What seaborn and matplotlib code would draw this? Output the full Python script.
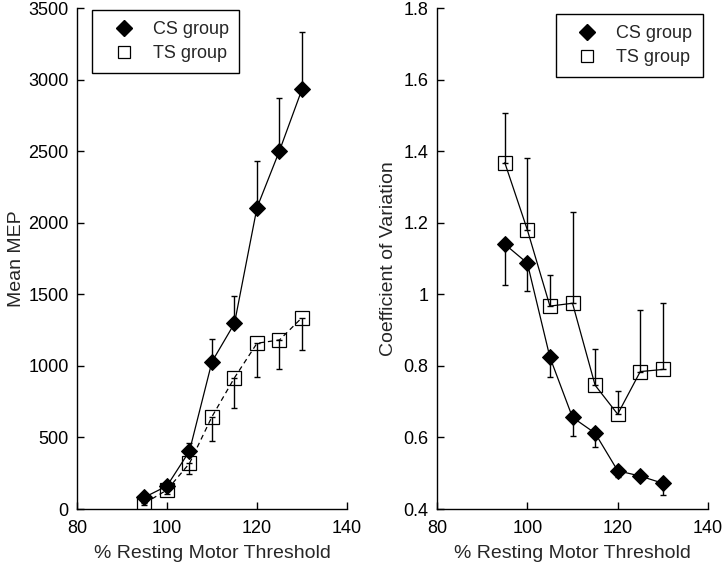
import numpy as np, pandas as pd
import matplotlib
matplotlib.use("Agg")
import matplotlib.pyplot as plt
import seaborn as sns
from matplotlib.lines import Line2D

sns.set_style("ticks")
plt.rcParams["font.family"] = ["Liberation Sans", "DejaVu Sans"]

# ---- data ----
rmt = [95, 100, 105, 110, 115, 120, 125, 130]
mep_cs = [82, 161, 405, 1029, 1297, 2105, 2503, 2932]
mep_cs_err = [20, 30, 58, 156, 193, 328, 370, 400]
mep_ts = [40, 133, 319, 645, 917, 1158, 1181, 1337]
mep_ts_err = [15, 30, 77, 170, 214, 234, 205, 226]
cv_cs = [1.140, 1.087, 0.824, 0.656, 0.612, 0.507, 0.492, 0.472]
cv_cs_err = [0.114, 0.078, 0.054, 0.052, 0.038, 0.017, 0.010, 0.033]
cv_ts = [1.368, 1.180, 0.967, 0.975, 0.746, 0.665, 0.784, 0.790]
cv_ts_err = [0.139, 0.202, 0.087, 0.256, 0.100, 0.066, 0.172, 0.187]

df = pd.DataFrame({"rmt": rmt, "mep_cs": mep_cs, "mep_ts": mep_ts,
                   "cv_cs": cv_cs, "cv_ts": cv_ts})

fig = plt.figure(figsize=(7.22, 5.64), dpi=100)
axL = fig.add_axes([0.1066, 0.0975, 0.374, 0.8883])
axR = fig.add_axes([0.6053, 0.0975, 0.3753, 0.8883])

cs_kw = dict(marker="D", color="black", markersize=8, markerfacecolor="black",
             markeredgecolor="black", linewidth=0.9)
ts_kw = dict(marker="s", color="black", markersize=9.5, markerfacecolor="none",
             markeredgecolor="black", markeredgewidth=0.9, linewidth=0.9)
eb_kw = dict(fmt="none", ecolor="black", elinewidth=1.0, capsize=2.5, capthick=1.0)

# ---- left: mean MEP ----
z = np.zeros(len(rmt))
axL.errorbar(rmt, mep_cs, yerr=[z, mep_cs_err], **eb_kw)
axL.errorbar(rmt, mep_ts, yerr=[mep_ts_err, z], **eb_kw)
sns.lineplot(data=df, x="rmt", y="mep_ts", ax=axL, linestyle=(0, (4, 3)), **ts_kw)
sns.lineplot(data=df, x="rmt", y="mep_cs", ax=axL, **cs_kw)
axL.set_xlim(80, 140); axL.set_ylim(0, 3500)
axL.set_xticks([80, 100, 120, 140]); axL.set_yticks(np.arange(0, 3501, 500))
axL.set_ylabel("Mean MEP", fontsize=14, labelpad=2.5)

# ---- right: coefficient of variation ----
axR.errorbar(rmt, cv_cs, yerr=[cv_cs_err, z], **eb_kw)
axR.errorbar(rmt, cv_ts, yerr=[z, cv_ts_err], **eb_kw)
sns.lineplot(data=df, x="rmt", y="cv_ts", ax=axR, **ts_kw)
sns.lineplot(data=df, x="rmt", y="cv_cs", ax=axR, **cs_kw)
axR.set_xlim(80, 140); axR.set_ylim(0.4, 1.8)
axR.set_xticks([80, 100, 120, 140]); axR.set_yticks([0.4, 0.6, 0.8, 1, 1.2, 1.4, 1.6, 1.8])
axR.set_yticklabels(["0.4", "0.6", "0.8", "1", "1.2", "1.4", "1.6", "1.8"])
axR.set_ylabel("Coefficient of Variation", fontsize=14, labelpad=4.5)

handles = [Line2D([], [], marker="D", color="black", linestyle="none", markersize=8),
           Line2D([], [], marker="s", color="black", markerfacecolor="none",
                  linestyle="none", markersize=9, markeredgewidth=0.9)]
for ax, loc, anchor in [(axL, "upper left", (0.056, 0.996)), (axR, "upper right", (0.982, 0.988))]:
    ax.set_xlabel("% Resting Motor Threshold", fontsize=14, labelpad=6)
    ax.tick_params(direction="in", length=5, width=1, labelsize=13, colors="black")
    ax.tick_params(axis="x", pad=8)
    ax.tick_params(axis="y", pad=6)
    for s in ["left", "bottom"]:
        ax.spines[s].set_linewidth(1.0); ax.spines[s].set_color("black")
    sns.despine(ax=ax)
    leg = ax.legend(handles, ["CS group", "TS group"], loc=loc, bbox_to_anchor=anchor,
                    borderaxespad=0, fontsize=13, fancybox=False, framealpha=1,
                    edgecolor="black", handlelength=2.3, handletextpad=0.45,
                    borderpad=0.6, labelspacing=0.4)
    leg.get_frame().set_linewidth(1.0)

fig.savefig("out.png", dpi=100)
